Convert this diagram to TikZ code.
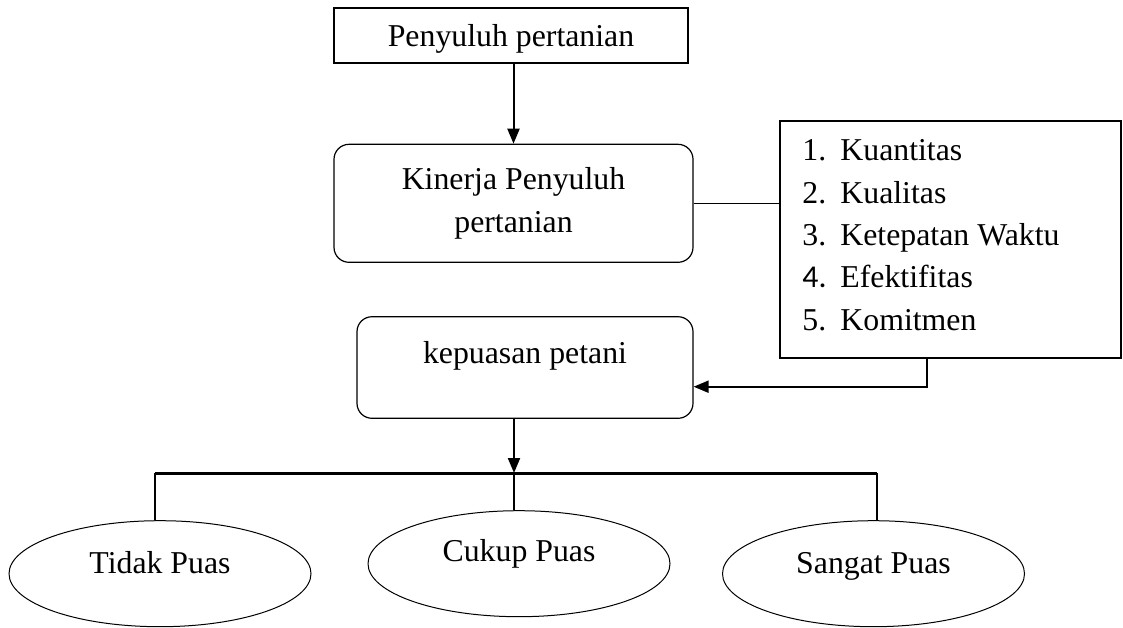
\documentclass[tikz,border=0pt]{standalone}
\usepackage{fontspec}
\setmainfont{Liberation Serif}
\newfontfamily\numfont{Carlito}
\usetikzlibrary{arrows.meta,shapes.geometric}

\begin{document}
\begin{tikzpicture}[x=0.5pt,y=-0.5pt,
  font=\fontsize{15.9}{21.2}\selectfont,
  box/.style={draw, line width=1pt, minimum width=177pt, minimum height=27.5pt, text height=10.8pt, text depth=0pt},
  rbox/.style={draw, line width=0.6pt, rounded corners=7.5pt, align=center},
  oval/.style={draw, ellipse, line width=0.5pt, minimum width=151pt, minimum height=53pt, text height=10.8pt, text depth=11.5pt},
  arr/.style={line width=1pt, -{Triangle[width=6pt,length=7.5pt]}}]
\useasboundingbox (0,0) rectangle (1123,627);

\node[box] (top) at (511,35.8) {Penyuluh pertanian};
\node[rbox, minimum width=179.5pt, minimum height=59pt] (kin) at (513.5,203.3) {Kinerja Penyuluh\\pertanian};
\node[rbox, minimum width=168pt, minimum height=50.8pt, text height=10.8pt, text depth=15pt] (kep) at (525,367.5) {kepuasan petani};

% indikator kinerja
\node[draw, line width=1pt, minimum width=170.5pt, minimum height=118.8pt] (ind) at (950.5,239.5) {};
\foreach \i/\n/\t in {1/1./Kuantitas, 2/2./Kualitas, 3/3./Ketepatan Waktu, 4/{\numfont 4.}/Efektifitas, 5/5./Komitmen} {
  \node[anchor=base west, inner sep=0pt] (num\i) at (802,{118.3+42.4*\i}) {\n};
  \node[anchor=base west, inner sep=0pt] (item\i) at (840,{118.3+42.4*\i}) {\t};
}

\node[oval] (tp) at (160,573.7) {Tidak Puas};
\node[oval, text depth=12.8pt] (cp) at (519,563.7) {Cukup Puas};
\node[oval] (sp) at (873.5,573.7) {Sangat Puas};

\coordinate (busL) at (155,473);
\coordinate (bus) at (514,473);
\coordinate (busR) at (877,473);

\draw[arr] (kin.north |- top.south) -- (kin.north);
\draw[line width=0.6pt] (kin.east) -- (kin.east -| ind.west);
\draw[arr] ([xshift=-11.9pt]ind.south) |- ([yshift=-9.6pt]kep.east);
\draw[arr] (kep.south -| bus) -- (bus);

\draw[line width=1.5pt] (busL) -- (busR);
\draw[line width=1pt] (busL) -- (busL |- tp.north);
\draw[line width=1pt] (bus) -- (bus |- cp.north);
\draw[line width=1pt] (busR) -- (busR |- sp.north);
\end{tikzpicture}
\end{document}
